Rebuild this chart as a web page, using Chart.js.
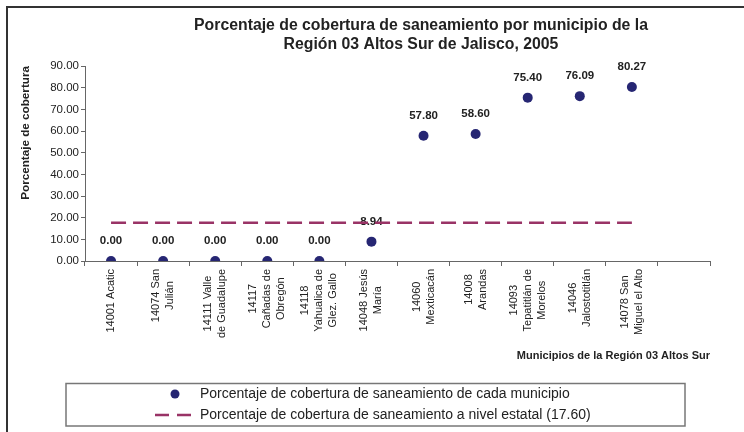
<!DOCTYPE html>
<html>
<head>
<meta charset="utf-8">
<script src="https://cdn.jsdelivr.net/npm/chart.js@4.4.1/dist/chart.umd.min.js"></script>
<style>
  html, body { margin: 0; padding: 0; background: #fff; }
  #wrap { width: 744px; height: 432px; }
</style>
</head>
<body>
<div id="wrap"><canvas id="saneamientoChart" width="744" height="432"></canvas></div>
<script>
// data
const tituloLineas = ['Porcentaje de cobertura de saneamiento por municipio de la', 'Región 03 Altos Sur de Jalisco, 2005'];
const municipios = [
  ['14001 Acatic'],
  ['14074 San', 'Julián'],
  ['14111 Valle', 'de Guadalupe'],
  ['14117', 'Cañadas de', 'Obregón'],
  ['14118', 'Yahualica de', 'Glez. Gallo'],
  ['14048 Jesús', 'María'],
  ['14060', 'Mexticacán'],
  ['14008', 'Arandas'],
  ['14093', 'Tepatitlán de', 'Morelos'],
  ['14046', 'Jalostotitlán'],
  ['14078 San', 'Miguel el Alto'],
  ['']
];
const cobertura = [0.00, 0.00, 0.00, 0.00, 0.00, 8.94, 57.80, 58.60, 75.40, 76.09, 80.27, null];
const estatal = [17.60, 17.60, 17.60, 17.60, 17.60, 17.60, 17.60, 17.60, 17.60, 17.60, 17.60, null];
const yMin = 0, yMax = 90, yStep = 10;

const FONT = '"Liberation Sans", Arial, sans-serif';
const NAVY = '#262673';
const PLUM = '#993366';

// outer frame + title
const marcoPlugin = {
  id: 'marco',
  beforeDraw(chart) {
    const c = chart.ctx;
    c.save();
    c.strokeStyle = '#333';
    c.lineWidth = 2;
    c.beginPath();
    c.moveTo(7, 440); c.lineTo(7, 7); c.lineTo(750, 7);
    c.stroke();
    c.fillStyle = '#222';
    c.font = 'bold 15.8px ' + FONT;
    c.textAlign = 'center';
    c.textBaseline = 'middle';
    tituloLineas.forEach((t, i) => c.fillText(t, 421, 26 + i * 19));
    c.restore();
  }
};

// value labels above the points (under the dashed line)
const etiquetasPlugin = {
  id: 'etiquetas',
  beforeDatasetsDraw(chart) {
    const c = chart.ctx;
    const meta = chart.getDatasetMeta(0);
    c.save();
    c.fillStyle = '#222';
    c.font = 'bold 11.5px ' + FONT;
    c.textAlign = 'center';
    c.textBaseline = 'middle';
    meta.data.forEach((p, i) => {
      const v = cobertura[i];
      if (v === null) return;
      c.fillText(v.toFixed(2), p.x, p.y - 20);
    });
    c.restore();
  }
};

// rotated category labels, lines centred like the original
const categoriasPlugin = {
  id: 'categorias',
  afterDraw(chart) {
    const c = chart.ctx;
    const xs = chart.scales.x;
    c.save();
    c.fillStyle = '#222';
    c.font = '11px ' + FONT;
    c.textAlign = 'center';
    c.textBaseline = 'middle';
    const lh = 14;
    municipios.forEach((lines, i) => {
      const x = xs.getPixelForValue(i);
      const maxW = Math.max(...lines.map(l => c.measureText(l).width));
      const cy = xs.top + 8 + maxW / 2;
      c.save();
      c.translate(x, cy);
      c.rotate(-Math.PI / 2);
      lines.forEach((l, j) => c.fillText(l, 0, (j - (lines.length - 1) / 2) * lh));
      c.restore();
    });
    c.restore();
  }
};

// boxed legend at the bottom
const leyendaPlugin = {
  id: 'leyenda',
  afterDraw(chart) {
    const c = chart.ctx;
    const ds = chart.data.datasets;
    c.save();
    c.strokeStyle = '#777';
    c.lineWidth = 1.5;
    c.strokeRect(66, 383.5, 619, 42.5);
    c.fillStyle = NAVY;
    c.beginPath();
    c.arc(175, 394, 4.5, 0, Math.PI * 2);
    c.fill();
    c.strokeStyle = PLUM;
    c.lineWidth = 2.5;
    c.beginPath();
    c.moveTo(155, 415); c.lineTo(169, 415);
    c.moveTo(177, 415); c.lineTo(191, 415);
    c.stroke();
    c.fillStyle = '#222';
    c.font = '14px ' + FONT;
    c.textAlign = 'left';
    c.textBaseline = 'middle';
    c.fillText(ds[0].label, 200, 394);
    c.fillText(ds[1].label, 200, 415);
    c.restore();
  }
};

const ctx = document.getElementById('saneamientoChart').getContext('2d');
const saneamientoChart = new Chart(ctx, {
  type: 'line',
  data: {
    labels: municipios,
    datasets: [{
      label: 'Porcentaje de cobertura de saneamiento de cada municipio',
      data: cobertura,
      showLine: false,
      pointRadius: 5,
      pointHoverRadius: 5,
      pointBackgroundColor: NAVY,
      pointBorderColor: NAVY,
      pointBorderWidth: 0,
      borderColor: NAVY,
      backgroundColor: NAVY
    }, {
      label: 'Porcentaje de cobertura de saneamiento a nivel estatal (17.60)',
      data: estatal,
      borderColor: PLUM,
      backgroundColor: PLUM,
      borderWidth: 2.5,
      borderDash: [15, 7],
      pointRadius: 0,
      fill: false,
      tension: 0
    }]
  },
  options: {
    responsive: false,
    animation: false,
    devicePixelRatio: 1,
    layout: { padding: { left: 13, top: 66, right: 34, bottom: 57 } },
    plugins: {
      legend: { display: false },
      title: { display: false },
      tooltip: { enabled: false }
    },
    scales: {
      x: {
        type: 'category',
        offset: true,
        grid: { drawOnChartArea: false, drawTicks: true, tickLength: 5, color: '#666', offset: true },
        border: { color: '#666', width: 1 },
        ticks: { autoSkip: false, maxRotation: 0, callback: () => '' },
        title: {
          display: true,
          text: 'Municipios de la Región 03 Altos Sur',
          align: 'end',
          color: '#222',
          font: { family: FONT, size: 11, weight: 'bold' },
          padding: { top: 0, bottom: 12 }
        },
        afterFit: (s) => { s.height = 114; }
      },
      y: {
        min: yMin,
        max: yMax,
        ticks: {
          stepSize: yStep,
          color: '#222',
          font: { family: FONT, size: 11.5 },
          padding: 2,
          callback: (v) => Number(v).toFixed(2)
        },
        grid: { drawOnChartArea: false, drawTicks: true, tickLength: 4, color: '#666' },
        border: { color: '#666', width: 1 },
        title: {
          display: true,
          text: 'Porcentaje de cobertura',
          align: 'end',
          color: '#222',
          font: { family: FONT, size: 11.7, weight: 'bold' },
          padding: { top: 6, bottom: 0 }
        },
        afterFit: (s) => { s.width = 72; }
      }
    }
  },
  plugins: [marcoPlugin, etiquetasPlugin, categoriasPlugin, leyendaPlugin]
});
</script>
</body>
</html>
